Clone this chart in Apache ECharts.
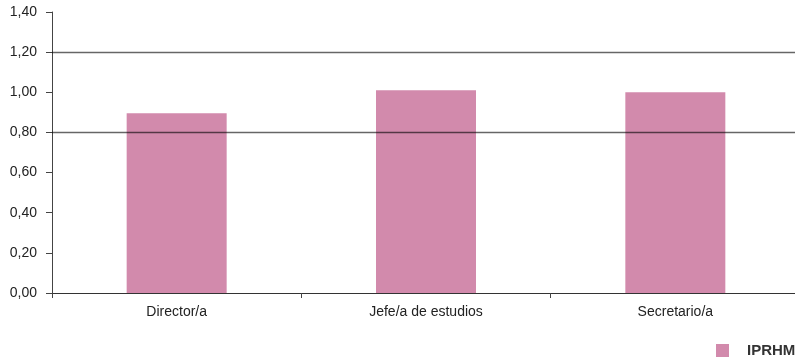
<!DOCTYPE html>
<html><head><meta charset="utf-8">
<script src="https://cdn.jsdelivr.net/npm/echarts@6/dist/echarts.min.js"></script>
<style>html,body{margin:0;padding:0;background:#fff;overflow:hidden;width:795px;height:360px}#c{width:800px;height:360px}</style>
</head><body><div id="c"></div>
<script>
const categories = ['Director/a', 'Jefe/a de estudios', 'Secretario/a'];
const seriesName = 'IPRHM';
const values = [0.895, 1.01, 1.0];
const yMin = 0, yMax = 1.4, yStep = 0.2;
const gridLineValues = [0.8, 1.2];

const chart = echarts.init(document.getElementById('c'), null, {renderer: 'canvas'});
chart.setOption({
  animation: false,
  grid: {left: 52, right: 0, top: 12, bottom: 67, containLabel: false},
  legend: {
    data: [seriesName], left: 716, top: 343, padding: 0, itemWidth: 13, itemHeight: 13, itemGap: 8,
    textStyle: {fontFamily: 'Liberation Sans Narrow, Liberation Sans, Arial', fontWeight: 'bold', fontSize: 15, color: '#333', padding: [0, 0, 0, 13]},
    icon: 'rect'
  },
  xAxis: {
    type: 'category', data: categories,
    axisLine: {lineStyle: {color: '#333', width: 1}},
    axisTick: {show: true, length: 5, lineStyle: {color: '#444'}},
    axisLabel: {fontFamily: 'Liberation Sans, Arial', fontSize: 14, color: '#222', margin: 12}
  },
  yAxis: {
    type: 'value', min: yMin, max: yMax, interval: yStep, z: 5,
    axisLine: {show: true, lineStyle: {color: '#444', width: 1}},
    axisTick: {show: true, length: 6, lineStyle: {color: '#444'}},
    axisLabel: {fontFamily: 'Liberation Sans, Arial', fontSize: 14, color: '#222', margin: 15,
      formatter: v => v.toFixed(2).replace('.', ',')},
    splitLine: {show: false}
  },
  series: [{
    name: seriesName, type: 'bar', data: values, barWidth: 100,
    itemStyle: {color: '#d28aac'},
    markLine: {
      silent: true, symbol: 'none', z: 10,
      label: {show: false},
      lineStyle: {color: 'rgba(0,0,0,0.6)', width: 1.3, type: 'solid'},
      data: gridLineValues.map(v => ({yAxis: v}))
    }
  }]
});
</script></body></html>
